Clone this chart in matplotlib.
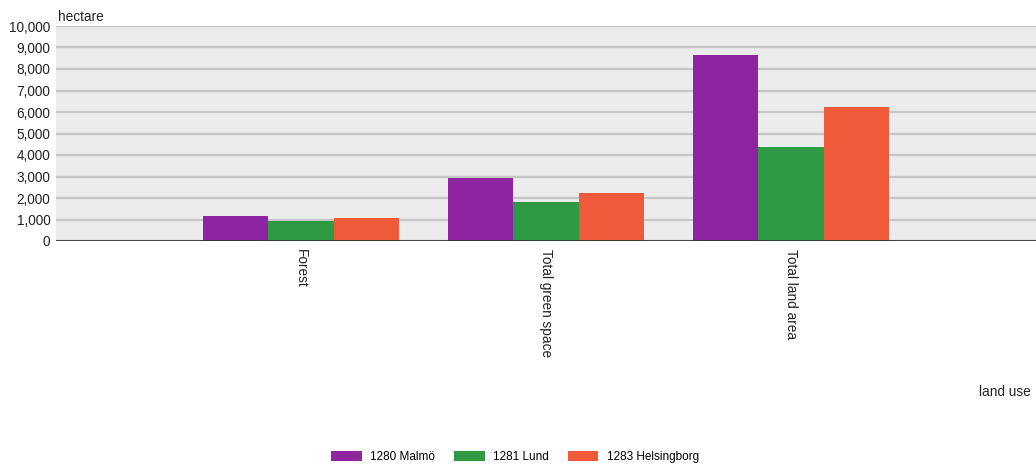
import matplotlib
matplotlib.use("Agg")
import matplotlib.pyplot as plt
import numpy as np
from matplotlib.ticker import FuncFormatter

# values (hectare)
categories = ["Forest", "Total green space", "Total land area"]
series_names = ["1280 Malmö", "1281 Lund", "1283 Helsingborg"]
malmo = [1170, 2940, 8660]
lund = [950, 1820, 4390]
helsingborg = [1060, 2210, 6230]
colors = ["#8e24a0", "#2e9a44", "#ef5a3a"]

plt.rcParams["font.family"] = ["Liberation Sans", "DejaVu Sans"]

fig = plt.figure(figsize=(10.36, 4.67), dpi=100)
ax = fig.add_axes([56 / 1036, (467 - 241) / 467, 1 - 56 / 1036, (241 - 26) / 467])
ax.set_facecolor("#ececec")

x = np.arange(len(categories))
w = 0.8 / 3
for i, (vals, name) in enumerate(zip([malmo, lund, helsingborg], series_names)):
    ax.bar(x + (i - 1) * w, vals, width=w, color=colors[i], label=name, zorder=3)

ax.set_xlim(-1, 3)
ax.set_ylim(0, 10000)
ax.set_yticks(range(0, 10001, 1000))
ax.yaxis.set_major_formatter(FuncFormatter(lambda v, p: f"{int(v):,}"))
ax.grid(axis="y", color="#c6c6c6", linewidth=1.6, zorder=0)
ax.axhline(0, color="#333333", linewidth=2, zorder=4)

for s in ax.spines.values():
    s.set_visible(False)

ax.tick_params(axis="y", length=0, pad=4, labelsize=9.8, labelcolor="#222222")
ax.tick_params(axis="x", length=0, pad=6, labelsize=9.8, labelcolor="#222222")
ax.set_xticks(x)
ax.set_xticklabels(categories, rotation=-90, va="top", ha="center")

fig.text(58 / 1036, 1 - 17 / 467, "hectare", fontsize=9.8, color="#222222", va="center", ha="left")
fig.text(1031 / 1036, 1 - 392 / 467, "land use", fontsize=9.8, color="#222222", va="center", ha="right")

fig.legend(loc="center", bbox_to_anchor=(515 / 1036, 1 - 457 / 467), ncol=3, frameon=False,
           fontsize=8.5, handlelength=2.6, handleheight=0.9, columnspacing=1.6, handletextpad=0.7)

fig.savefig("out.png", dpi=100)
